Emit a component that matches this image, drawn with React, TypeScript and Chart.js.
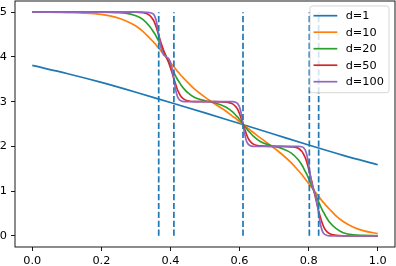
import React, { useEffect, useRef } from "react";
import { Chart, registerables } from "chart.js";

Chart.register(...registerables);

// ---- data ----
const thresholds = [0.366, 0.41, 0.61, 0.802, 0.829];
const vlineRange = [0, 5];

const d1X = [0, 0.1, 0.2, 0.3, 0.4, 0.5, 0.6, 0.7, 0.8, 0.9, 1.0];
const d1Y = [3.81, 3.63, 3.43, 3.21, 2.98, 2.75, 2.51, 2.27, 2.03, 1.8, 1.59];

const stepX = [
  0, 0.05, 0.1, 0.15, 0.2, 0.24, 0.27, 0.3, 0.32, 0.34, 0.35, 0.355, 0.36, 0.365, 0.37, 0.375, 0.38,
  0.385, 0.39, 0.395, 0.4, 0.405, 0.41, 0.415, 0.42, 0.425, 0.43, 0.44, 0.45, 0.47, 0.5, 0.53, 0.56,
  0.58, 0.59, 0.595, 0.6, 0.605, 0.61, 0.615, 0.62, 0.625, 0.63, 0.64, 0.66, 0.69, 0.72, 0.75, 0.77,
  0.78, 0.785, 0.79, 0.795, 0.8, 0.805, 0.81, 0.815, 0.82, 0.825, 0.83, 0.835, 0.84, 0.845, 0.85,
  0.86, 0.88, 0.9, 0.93, 0.96, 1.0,
];
const d10Y = [
  5.0, 5.0, 4.99, 4.98, 4.95, 4.89, 4.81, 4.69, 4.57, 4.42, 4.34, 4.3, 4.25, 4.21, 4.16, 4.11, 4.07,
  4.02, 3.97, 3.92, 3.87, 3.82, 3.78, 3.73, 3.68, 3.64, 3.59, 3.51, 3.43, 3.28, 3.1, 2.94, 2.79,
  2.67, 2.62, 2.58, 2.55, 2.52, 2.49, 2.46, 2.43, 2.4, 2.37, 2.31, 2.19, 2.02, 1.84, 1.63, 1.46,
  1.37, 1.32, 1.27, 1.22, 1.17, 1.12, 1.07, 1.02, 0.97, 0.92, 0.87, 0.82, 0.77, 0.73, 0.68,
  0.6, 0.44, 0.32, 0.19, 0.11, 0.05,
];
const d20Y = [
  5.0, 5.0, 5.0, 5.0, 5.0, 4.99, 4.98, 4.92, 4.84, 4.68, 4.57, 4.51, 4.44, 4.37, 4.29, 4.21, 4.13,
  4.05, 3.97, 3.89, 3.8, 3.72, 3.65, 3.57, 3.5, 3.44, 3.38, 3.28, 3.2, 3.09, 3.02, 2.97, 2.88,
  2.77, 2.69, 2.65, 2.6, 2.55, 2.5, 2.45, 2.4, 2.35, 2.31, 2.23, 2.11, 2.02, 1.96, 1.85, 1.7,
  1.59, 1.52, 1.44, 1.37, 1.28, 1.19, 1.1, 1.01, 0.92, 0.83, 0.74, 0.65, 0.57, 0.5, 0.43,
  0.31, 0.16, 0.07, 0.02, 0.01, 0.0,
];
const d50Y = [
  5.0, 5.0, 5.0, 5.0, 5.0, 5.0, 5.0, 5.0, 4.99, 4.93, 4.83, 4.75, 4.64, 4.51, 4.38, 4.26, 4.15,
  4.05, 3.96, 3.87, 3.76, 3.64, 3.51, 3.39, 3.27, 3.19, 3.12, 3.05, 3.02, 3.0, 3.0, 3.0, 2.99,
  2.95, 2.88, 2.82, 2.73, 2.62, 2.5, 2.38, 2.27, 2.18, 2.12, 2.05, 2.01, 2.0, 2.0, 1.99, 1.96,
  1.89, 1.83, 1.75, 1.64, 1.5, 1.34, 1.18, 1.02, 0.85, 0.69, 0.53, 0.39, 0.27, 0.18, 0.12,
  0.05, 0.01, 0.0, 0.0, 0.0, 0.0,
];
const d100Y = [
  5.0, 5.0, 5.0, 5.0, 5.0, 5.0, 5.0, 5.0, 5.0, 4.99, 4.96, 4.9, 4.77, 4.55, 4.31, 4.14, 4.05,
  4.02, 3.99, 3.96, 3.88, 3.73, 3.5, 3.27, 3.12, 3.05, 3.02, 3.0, 3.0, 3.0, 3.0, 3.0, 3.0,
  3.0, 2.98, 2.95, 2.88, 2.73, 2.5, 2.27, 2.12, 2.05, 2.02, 2.0, 2.0, 2.0, 2.0, 2.0, 2.0,
  1.99, 1.97, 1.92, 1.8, 1.6, 1.35, 1.15, 1.01, 0.89, 0.7, 0.45, 0.23, 0.1, 0.04, 0.02,
  0.0, 0.0, 0.0, 0.0, 0.0, 0.0,
];

const seriesLabels = ["d=1", "d=10", "d=20", "d=50", "d=100"];
const xTicks = [0, 0.2, 0.4, 0.6, 0.8, 1.0];
const yTicks = [0, 1, 2, 3, 4, 5];

// ---- styling ----
const PALETTE = ["#1f77b4", "#ff7f0e", "#2ca02c", "#d62728", "#9467bd"];
const FONT = "'DejaVu Sans', sans-serif";
const FONT_SIZE = 11.3;

const toPoints = (xs: number[], ys: number[]) => xs.map((x, i) => ({ x, y: ys[i] }));

const frameLegendPlugin = {
  id: "frameLegend",
  afterDatasetsDraw(chart: any) {
    const { ctx, chartArea: a } = chart;
    ctx.save();
    // spines
    ctx.strokeStyle = "#000";
    ctx.lineWidth = 0.9;
    ctx.strokeRect(a.left, a.top, a.right - a.left, a.bottom - a.top);

    // legend
    const items = chart.data.datasets.filter((ds: any) => ds.label);
    const rowH = 16.5;
    const boxW = 79;
    const boxH = 86.7;
    const right = a.right - 6;
    const left = right - boxW;
    const top = a.top + 5;
    const r = 2.5;
    ctx.beginPath();
    ctx.moveTo(left + r, top);
    ctx.lineTo(right - r, top);
    ctx.arcTo(right, top, right, top + r, r);
    ctx.lineTo(right, top + boxH - r);
    ctx.arcTo(right, top + boxH, right - r, top + boxH, r);
    ctx.lineTo(left + r, top + boxH);
    ctx.arcTo(left, top + boxH, left, top + boxH - r, r);
    ctx.lineTo(left, top + r);
    ctx.arcTo(left, top, left + r, top, r);
    ctx.closePath();
    ctx.fillStyle = "rgba(255,255,255,0.8)";
    ctx.fill();
    ctx.strokeStyle = "rgba(204,204,204,0.8)";
    ctx.lineWidth = 1;
    ctx.stroke();

    ctx.font = `${FONT_SIZE}px ${FONT}`;
    ctx.textBaseline = "middle";
    ctx.textAlign = "left";
    items.forEach((ds: any, i: number) => {
      const cy = top + 9.7 + i * rowH;
      ctx.strokeStyle = ds.borderColor;
      ctx.lineWidth = 1.7;
      ctx.setLineDash([]);
      ctx.beginPath();
      ctx.moveTo(left + 3.5, cy);
      ctx.lineTo(left + 27.3, cy);
      ctx.stroke();
      ctx.fillStyle = "#000";
      ctx.fillText(ds.label, left + 35.7, cy + 0.5);
    });
    ctx.restore();
  },
};

export default function App() {
  const canvasRef = useRef<HTMLCanvasElement | null>(null);

  useEffect(() => {
    if (!canvasRef.current) return;
    const seriesData = [
      toPoints(d1X, d1Y),
      toPoints(stepX, d10Y),
      toPoints(stepX, d20Y),
      toPoints(stepX, d50Y),
      toPoints(stepX, d100Y),
    ];
    const curveSets = seriesData.map((data, i) => ({
      label: seriesLabels[i],
      data,
      borderColor: PALETTE[i],
      backgroundColor: PALETTE[i],
      borderWidth: 1.7,
      pointRadius: 0,
      fill: false,
      cubicInterpolationMode: "monotone" as const,
      order: 10 - i,
    }));
    const vlineSets = thresholds.map((t) => ({
      label: "",
      data: vlineRange.map((y) => ({ x: t, y })),
      borderColor: PALETTE[0],
      borderWidth: 1.7,
      borderDash: [6.2, 2.7],
      pointRadius: 0,
      fill: false,
      order: 1,
    }));

    const tickFont = { family: FONT, size: FONT_SIZE };
    const chart = new Chart(canvasRef.current, {
      type: "line",
      data: { datasets: [...curveSets, ...vlineSets] as any },
      plugins: [frameLegendPlugin],
      options: {
        animation: false,
        responsive: false,
        devicePixelRatio: 1,
        layout: { padding: { left: 0, right: 1, top: 1, bottom: 0 } },
        plugins: { legend: { display: false }, tooltip: { enabled: false } },
        scales: {
          x: {
            type: "linear",
            min: -0.05,
            max: 1.05,
            afterBuildTicks: (axis: any) => {
              axis.ticks = xTicks.map((v) => ({ value: v }));
            },
            afterFit: (axis: any) => {
              axis.height = 19;
              axis.paddingLeft = 0;
              axis.paddingRight = 0;
            },
            ticks: {
              color: "#000",
              font: tickFont,
              padding: 3,
              maxRotation: 0,
              autoSkip: false,
              callback: (v: any) => Number(v).toFixed(1),
            },
            grid: {
              display: true,
              drawOnChartArea: false,
              drawTicks: true,
              tickLength: 4,
              tickColor: "#000",
              tickWidth: 0.9,
            },
            border: { display: false },
          },
          y: {
            type: "linear",
            min: -0.25,
            max: 5.25,
            afterBuildTicks: (axis: any) => {
              axis.ticks = yTicks.map((v) => ({ value: v }));
            },
            afterFit: (axis: any) => {
              axis.width = 15;
              axis.paddingTop = 0;
              axis.paddingBottom = 0;
            },
            ticks: {
              color: "#000",
              font: tickFont,
              padding: 4,
              autoSkip: false,
              callback: (v: any) => String(v),
            },
            grid: {
              display: true,
              drawOnChartArea: false,
              drawTicks: true,
              tickLength: 4,
              tickColor: "#000",
              tickWidth: 0.9,
            },
            border: { display: false },
          },
        },
      },
    });
    return () => chart.destroy();
  }, []);

  return (
    <div style={{ position: "absolute", left: 0, top: 0, width: 396, height: 266 }}>
      <canvas ref={canvasRef} width={396} height={266} style={{ display: "block" }} />
    </div>
  );
}
